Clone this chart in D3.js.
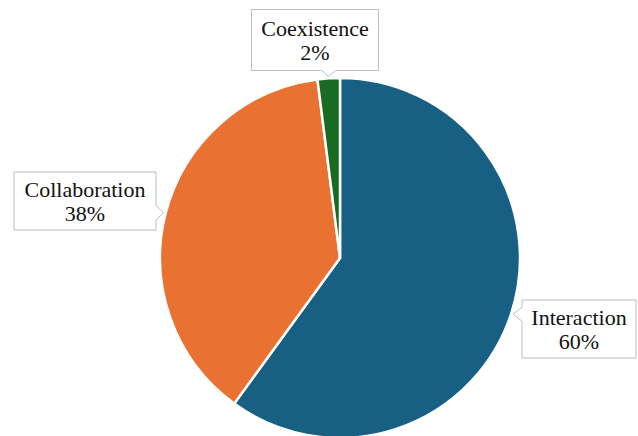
<!DOCTYPE html>
<html>
<head>
<meta charset="utf-8">
<script src="https://cdn.jsdelivr.net/npm/d3@7"></script>
<style>
  html, body { margin: 0; padding: 0; background: #fff; }
  svg { display: block; }
</style>
</head>
<body>
<svg id="chart" width="638" height="436"></svg>
<script>
// Share of each relationship type (percent)
const categories = ["Interaction", "Collaboration", "Coexistence"];
const values = [60, 38, 2];
const colors = ["#175F83", "#E97132", "#196B24"];

// Callout box placement (centre of box, box size), one per category
const labelLayout = [
  { cx: 579, cy: 329, w: 114, h: 58, side: "left" },
  { cx: 85,  cy: 201, w: 142, h: 58, side: "right" },
  { cx: 315, cy: 40,  w: 127, h: 61, side: "bottom" }
];

const fontStack = ["Liberation Serif", "Times New Roman", "DejaVu Serif"];

const width = 638, height = 436;
const cx = 340, cy = 258, radius = 180;

const svg = d3.select("#chart");
const g = svg.append("g").attr("transform", `translate(${cx},${cy})`);

const data = categories.map((c, i) => ({ name: c, value: values[i], color: colors[i], layout: labelLayout[i] }));

const pie = d3.pie().value(d => d.value).sort(null);
const arc = d3.arc().innerRadius(0).outerRadius(radius);
const arcs = pie(data);

g.selectAll("path.slice")
  .data(arcs)
  .join("path")
  .attr("class", "slice")
  .attr("d", arc)
  .attr("fill", d => d.data.color)
  .attr("stroke", "#fff")
  .attr("stroke-width", 2.5)
  .attr("stroke-linejoin", "round");

// Callout: rectangle with a small wedge pointing at the slice edge
function calloutPath(L, tip) {
  const x0 = L.cx - L.w / 2, x1 = L.cx + L.w / 2;
  const y0 = L.cy - L.h / 2, y1 = L.cy + L.h / 2;
  const hw = 7;
  if (L.side === "bottom") {
    const bx = Math.max(x0 + hw + 4, Math.min(x1 - hw - 4, tip[0]));
    return `M${x0},${y0}H${x1}V${y1}H${bx + hw}L${tip[0]},${tip[1]}L${bx - hw},${y1}H${x0}Z`;
  }
  if (L.side === "left") {
    const by = Math.max(y0 + hw + 4, Math.min(y1 - hw - 4, tip[1]));
    return `M${x0},${y0}H${x1}V${y1}H${x0}V${by + hw}L${tip[0]},${tip[1]}L${x0},${by - hw}Z`;
  }
  // right
  const by = Math.max(y0 + hw + 4, Math.min(y1 - hw - 4, tip[1]));
  return `M${x0},${y0}H${x1}V${by - hw}L${tip[0]},${tip[1]}L${x1},${by + hw}V${y1}H${x0}Z`;
}

const labels = svg.append("g").attr("class", "labels");

arcs.forEach(a => {
  const L = a.data.layout;
  const mid = (a.startAngle + a.endAngle) / 2;
  const tip = [cx + (radius + 2) * Math.sin(mid), cy - (radius + 2) * Math.cos(mid)];
  labels.append("path")
    .attr("d", calloutPath(L, tip))
    .attr("fill", "#fff")
    .attr("stroke", "#BFBFBF")
    .attr("stroke-width", 1);
  const t = labels.append("text")
    .attr("x", L.cx)
    .attr("y", L.cy)
    .attr("text-anchor", "middle")
    .style("font-family", fontStack.map(f => `"${f}"`).join(", ") + ", serif")
    .style("font-size", "22px")
    .attr("fill", "#111");
  t.append("tspan").attr("x", L.cx).attr("dy", -4).text(a.data.name);
  t.append("tspan").attr("x", L.cx).attr("dy", 24).text(d3.format(".0f")(a.data.value) + "%");
});
</script>
</body>
</html>
